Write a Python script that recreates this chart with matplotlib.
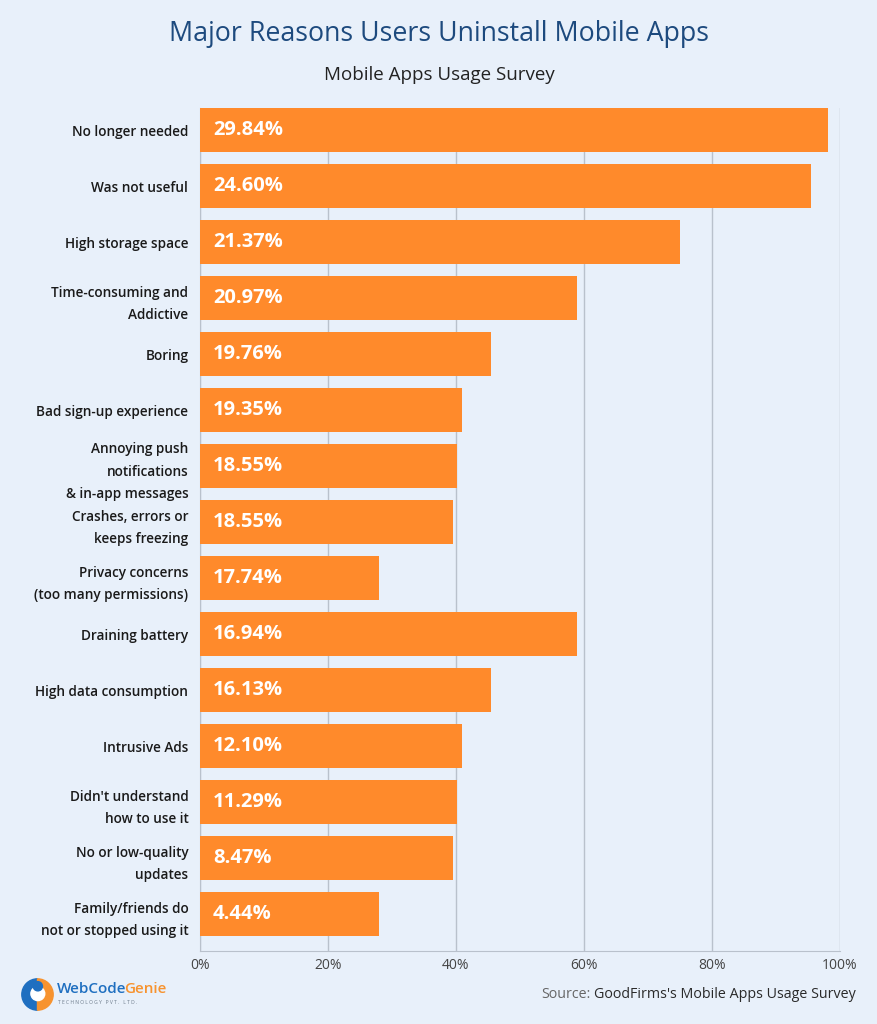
import matplotlib
matplotlib.use("Agg")
import matplotlib.pyplot as plt
from matplotlib.patches import Circle, Wedge

# data (bar length on the 0-100% axis, printed label separately)
reasons = ["No longer needed", "Was not useful", "High storage space",
           "Time-consuming and\nAddictive", "Boring", "Bad sign-up experience",
           "Annoying push\nnotifications\n& in-app messages",
           "Crashes, errors or\nkeeps freezing",
           "Privacy concerns\n(too many permissions)", "Draining battery",
           "High data consumption", "Intrusive Ads",
           "Didn't understand\nhow to use it", "No or low-quality\nupdates",
           "Family/friends do\nnot or stopped using it"]
bar_len = [98.2, 95.5, 75.0, 58.9, 45.4, 40.9, 40.2, 39.5, 28.0,
           58.9, 45.4, 40.9, 40.2, 39.5, 28.0]
pct_labels = ["29.84%", "24.60%", "21.37%", "20.97%", "19.76%", "19.35%",
              "18.55%", "18.55%", "17.74%", "16.94%", "16.13%", "12.10%",
              "11.29%", "8.47%", "4.44%"]
xticks = [0, 20, 40, 60, 80, 100]

bg = "#e8f0fa"
orange = "#ff8a2b"
navy = "#1d4a7e"
grid_c = "#b9c1cc"

plt.rcParams['font.family'] = ['Open Sans', 'DejaVu Sans']

fig = plt.figure(figsize=(8.78, 10.24), dpi=100, facecolor=bg)
W, H = 878, 1024
ax = fig.add_axes([200/W, (H-951)/H, 640/W, (951-108)/H])
ax.set_facecolor(bg)

y = list(range(len(reasons)))
ax.barh(y, bar_len, height=0.786, color=orange, zorder=3)
ax.set_xlim(0, 100)
ax.set_ylim(14.66, -0.393)

ax.set_xticks(xticks)
ax.set_xticklabels([f"{t}%" for t in xticks], fontsize=10, color="#444444")
ax.xaxis.grid(True, color=grid_c, linewidth=1, zorder=0)
ax.tick_params(axis='x', length=0, pad=5)
ax.tick_params(axis='y', length=0, pad=8.4)
ax.set_yticks(y)
ax.set_yticklabels(reasons, fontsize=9.8, fontweight='semibold', color="#1a1a1a",
                   linespacing=1.75)
for sp in ["top", "right"]:
    ax.spines[sp].set_visible(False)
for sp in ["left", "bottom"]:
    ax.spines[sp].set_color(grid_c)

for yi, lab in zip(y, pct_labels):
    ax.text(2.0, yi, lab, color="white", fontsize=14.5, fontweight='bold',
            va='center', ha='left', zorder=4)

fig.text(0.5, 1-34/H, "Major Reasons Users Uninstall Mobile Apps", ha='center',
         va='center', fontsize=19.3, color=navy)
fig.text(0.5, 1-75/H, "Mobile Apps Usage Survey", ha='center', va='center',
         fontsize=13.5, color="#222222")

# source line
t2 = fig.text(856/W, 1-995/H, "GoodFirms's Mobile Apps Usage Survey", ha='right',
              va='center', fontsize=10.3, color="#2a2a2a")
fig.canvas.draw()
bb = t2.get_window_extent()
fig.text((bb.x0 - 4)/W, 1-995/H, "Source:", ha='right', va='center',
         fontsize=10.3, color="#666666")

# logo
lax = fig.add_axes([21/W, (H-1011)/H, 33/W, 33/H])
lax.set_xlim(-1, 1); lax.set_ylim(-1, 1); lax.set_aspect('equal'); lax.axis('off')
lax.add_patch(Wedge((0, 0), 0.95, 90, 270, color="#1f6fc0"))
lax.add_patch(Wedge((0, 0), 0.95, -90, 90, color="#f7932f"))
lax.add_patch(Circle((0.02, 0.05), 0.42, color="white"))
lax.add_patch(Circle((0.02, 0.5), 0.28, color="#1f6fc0"))
t_web = fig.text(57/W, 1-989/H, "WebCode", fontsize=11, fontweight='semibold',
                 color="#1f6fc0", ha='left', va='center')
fig.canvas.draw()
wb = t_web.get_window_extent()
fig.text((wb.x1 - 2)/W, 1-989/H, "Genie", fontsize=11, fontweight='semibold',
         color="#f7932f", ha='left', va='center')
fig.text(58/W, 1-1002/H, "T E C H N O L O G Y   P V T .   L T D .", fontsize=3.6,
         color="#6c7a8a", ha='left', va='center')

fig.savefig("out.png", dpi=100, facecolor=bg)
